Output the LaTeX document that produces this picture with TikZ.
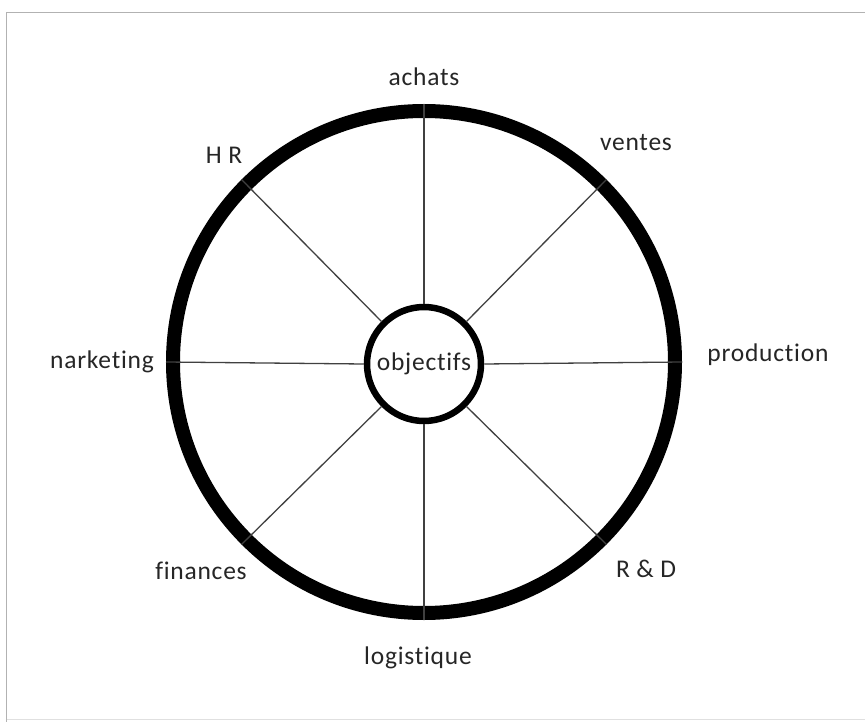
\documentclass[tikz,border=0pt]{standalone}
\usepackage{fontspec}
\setmainfont{Carlito}[Ligatures=NoCommon, RawFeature=-liga;-clig, LetterSpace=3]
\begin{document}
\begin{tikzpicture}[x=1pt,y=-1pt,
  lbl/.style={font=\fontsize{25.5}{30}\selectfont, text=black!85, inner sep=0pt},
  spoke/.style={draw=black!75, line width=1.3pt},
  rim/.style={circle, draw=black, line width=14pt, minimum size=502pt, inner sep=0pt},
  hub/.style={circle, draw=black, line width=6.5pt, minimum size=114pt, inner sep=0pt, font=\fontsize{25.5}{30}\selectfont, text=black!85}]
\useasboundingbox (0,0) rectangle (865,722);
\fill[white] (0,0) rectangle (865,722);
% frame
\draw[black!30, line width=1.5pt] (870,12.5) -- (6.5,12.5) -- (6.5,722);
\draw[black!12, line width=1.5pt] (6.5,719.5) -- (870,719.5);
% wheel
\node[rim] (O) at (424,362) {};
\node[hub] (I) at (424,364) {objectifs};
\foreach \a in {0,45,...,315} {
  \draw[spoke] (I.\a) -- (O.\a);
}
% labels
\node[lbl] (achats) at (424,77) {achats};
\node[lbl] (ventes) at (636,143) {ventes};
\node[lbl] (hr) at (224,155) {H R};
\node[lbl] (mkt) at (102,362) {narketing};
\node[lbl] (prod) at (768,355) {production};
\node[lbl] (fin) at (201,571) {finances};
\node[lbl] (rd) at (646,569) {R \& D};
\node[lbl] (log) at (418,658) {logistique};
\end{tikzpicture}
\end{document}
